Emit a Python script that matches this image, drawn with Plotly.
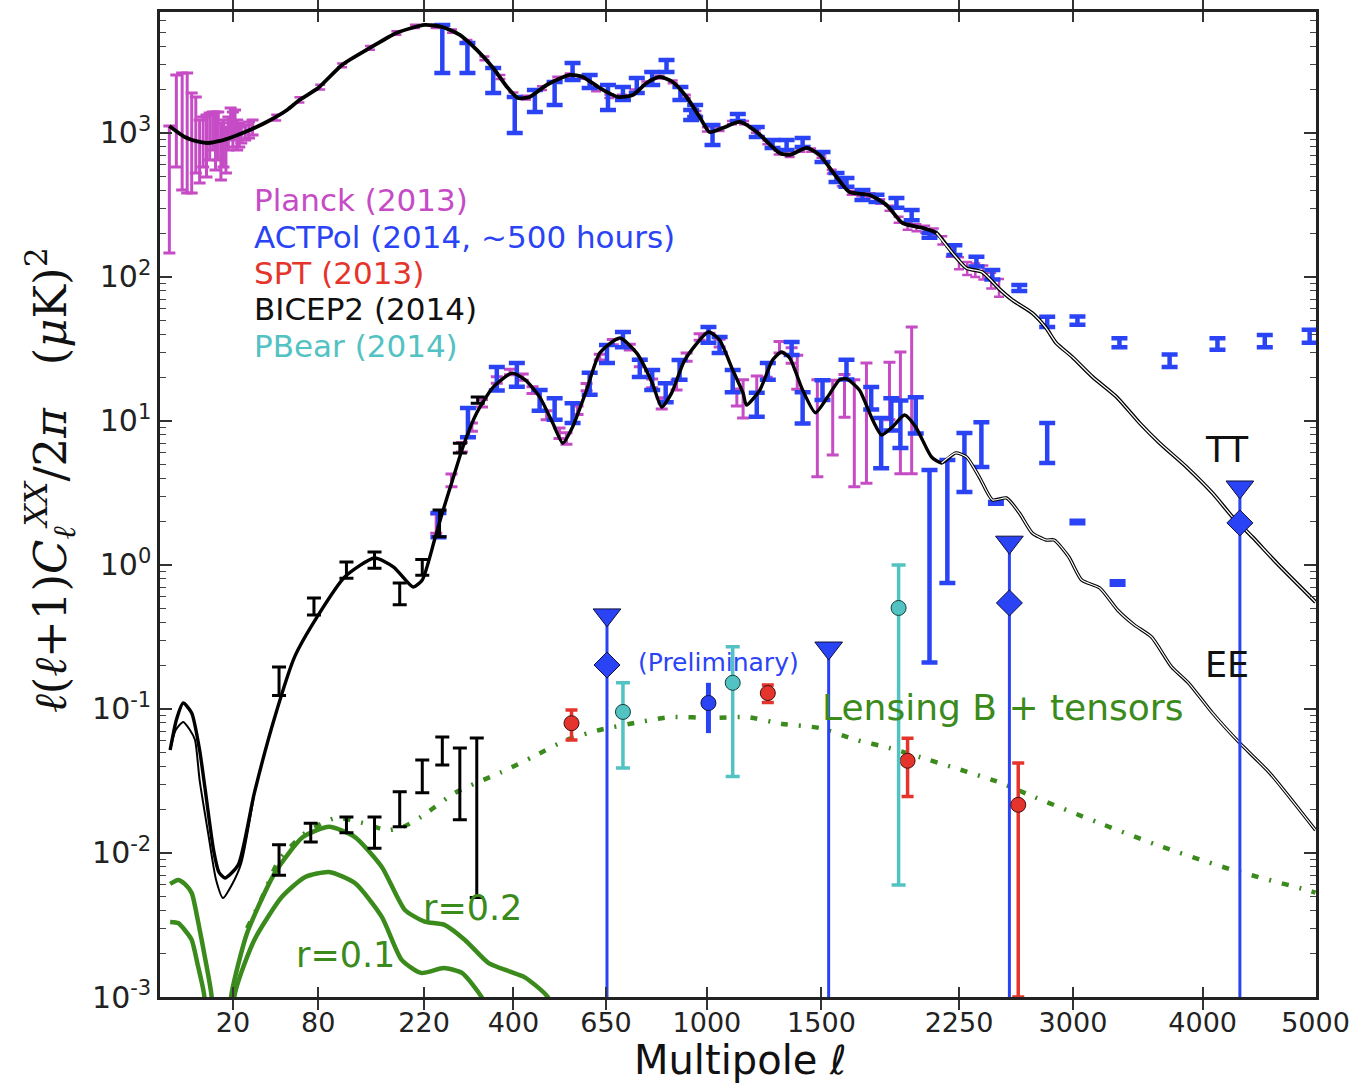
import numpy as np
import plotly.graph_objects as go

# ---------------- data (multipole ell, D_ell in muK^2) ----------------
# Theory TT
ell_tt = [2, 4.5, 8, 10.5, 14.6, 21, 31, 41, 53, 63, 80, 105, 139, 176, 221, 252, 285, 319, 354, 385,
          410, 439, 482, 544, 581, 631, 687, 735, 781, 826, 872, 923, 972, 1010, 1062, 1132, 1204,
          1304, 1350, 1429, 1490, 1574, 1639, 1743, 1834, 1922, 2035, 2116, 2210, 2296, 2394, 2502,
          2586, 2718, 2813, 2882, 2996, 3142, 3318, 3494, 3650, 3867, 4082, 4254, 4427, 4643, 5000]
d_tt = [1118, 938, 866, 852, 880, 953, 1083, 1231, 1444, 1695, 2053, 2967, 3894, 4948, 5623, 5446,
        4793, 3771, 2827, 2086, 1750, 1778, 2154, 2528, 2448, 2053, 1778, 1836, 2224, 2448, 2260, 1778,
        1292, 1016, 1083, 1192, 1016, 726, 704, 787, 704, 495, 389, 371, 316, 237, 219, 202, 147, 115,
        108, 82.5, 69.2, 56.2, 44.2, 34.8, 27.8, 20.2, 14.7, 9.68, 7.03, 4.79, 3.16, 2.15, 1.56, 1.03, 0.553]

# Theory EE
ell_ee = [2.1, 3.0, 4.2, 6.0, 8.0, 9.5, 12.3, 14.2, 16.6, 22.5, 31, 44, 59, 79, 108, 145, 172, 202, 217,
          238, 252, 271, 291, 319, 354, 397, 428, 464, 498, 525, 552, 592, 631, 693, 748, 800, 833, 868,
          916, 1006, 1050, 1103, 1146, 1160, 1217, 1273, 1312, 1350, 1410, 1471, 1530, 1589, 1624, 1690,
          1759, 1807, 1866, 1933, 1996, 2087, 2146, 2230, 2296, 2375, 2458, 2548, 2632, 2718, 2813, 2868,
          2970, 3062, 3194, 3326, 3454, 3587, 3746, 3882, 4082, 4314, 4580, 5000]
d_ee = [0.0519, 0.0839, 0.110, 0.0938, 0.0519, 0.0287, 0.0105, 0.00738, 0.0067, 0.00826, 0.0261, 0.088,
        0.23, 0.436, 0.825, 1.118, 0.968, 0.703, 0.787, 1.49, 2.3, 3.89, 6.6, 11.4, 17.2, 21.5, 19.3, 14.7,
        9.68, 7.03, 9.09, 16.4, 29.6, 37.7, 29.6, 18.4, 12.5, 15.6, 26.5, 41.5, 36.5, 22.6, 15.6, 12.9,
        16.4, 26.5, 30.1, 27.4, 16.4, 11.4, 14.7, 19.3, 19.6, 16.4, 10.2, 8.0, 9.09, 11.0, 9.09, 5.62,
        5.11, 6.0, 5.62, 4.08, 2.83, 2.92, 2.30, 1.67, 1.49, 1.49, 1.14, 0.787, 0.692, 0.487, 0.383,
        0.316, 0.196, 0.152, 0.0938, 0.0581, 0.0359, 0.0144]
# second EE model at low ell (lower reionization bump)
ell_ee2 = [2.1, 2.9, 4.2, 5.6, 6.8, 8.0, 10.5, 13.2, 15.8, 19.5, 24, 31]
d_ee2 = [0.0519, 0.0715, 0.0813, 0.0715, 0.0609, 0.0321, 0.0138, 0.0065, 0.00487, 0.0060, 0.00853, 0.0261]

# Tensor BB, r = 0.2 and r = 0.1
ell_r2 = [2.1, 3.3, 4.5, 6.0, 7.5, 9.5, 11.5, 15, 19.5, 27, 44, 66, 91, 120, 155, 189, 221, 255, 295,
          344, 392, 427, 485, 530]
d_r2 = [0.0061, 0.0065, 0.0061, 0.00527, 0.00343, 0.0019, 0.00107, 0.0002, 0.00107, 0.00278, 0.00726,
        0.0129, 0.0152, 0.0129, 0.0080, 0.00402, 0.00334, 0.00318, 0.00249, 0.00172, 0.00150, 0.00137,
        0.00100, 0.0005]
ell_r1 = [2.1, 3.3, 4.5, 6.0, 7.5, 9.2, 15, 21, 31, 49, 68, 91, 120, 155, 184, 215, 255, 289, 323, 347, 383]
d_r1 = [0.00332, 0.00326, 0.00292, 0.00249, 0.00167, 0.00107, 0.0001, 0.00107, 0.00249, 0.00494, 0.00681,
        0.00738, 0.00619, 0.0036, 0.00181, 0.00147, 0.00159, 0.00147, 0.00107, 0.0008, 0.0005]

# Lensing B + tensors (r=0.2)
ell_lens = [27, 35, 47, 68, 98, 129, 163, 189, 215, 275, 383, 446, 535, 631, 758, 868, 1022, 1160, 1317,
            1490, 1675, 1850, 2018, 2515, 2698, 3172, 3675, 4254, 4920, 5000]
d_lens = [0.0030, 0.00472, 0.00893, 0.01377, 0.0175, 0.0162, 0.0144, 0.0154, 0.0178, 0.0261, 0.0377,
          0.0464, 0.0609, 0.0715, 0.0813, 0.0880, 0.0866, 0.0880, 0.0787, 0.0738, 0.0609, 0.0536, 0.0464,
          0.0306, 0.0253, 0.0164, 0.0110, 0.00762, 0.00553, 0.0053]

# Planck 2013 TT, low ell (unbinned)
ell_pl_low = [2, 3, 4, 5, 6, 7, 8, 9, 10, 11, 12, 13, 14, 15, 16, 17, 18, 19, 20, 21, 22, 23, 24, 26, 28, 30]
d_pl_low = [633, 1556, 1506, 1497, 1140, 1153, 840, 936, 915, 1013, 1081, 976, 1024, 822, 906, 814, 1027,
            1193, 1100, 1191, 997, 987, 977, 1015, 1058, 1100]
e_pl_low = [486, 975, 1104, 1114, 757, 626, 391, 355, 420, 364, 318, 423, 375, 351, 325, 287, 264, 299,
            300, 253, 234, 187, 125, 122, 135, 132]

# Planck 2013 TT, binned
ell_pl_tt = [45, 63, 82, 105, 139, 176, 205, 240, 270, 300, 335, 370, 400, 430, 470, 510, 544, 580, 620,
             660, 700, 740, 780, 826, 872, 920, 960, 1000, 1050, 1100, 1150, 1200, 1250, 1300, 1350, 1400,
             1450, 1500, 1550, 1600, 1650, 1700, 1750, 1800, 1850, 1900, 1950, 2000, 2050, 2100, 2150, 2200,
             2250, 2300, 2350, 2400, 2450, 2500]
d_pl_tt = [1280, 1700, 2080, 2950, 3900, 4950, 5500, 5500, 5100, 4300, 3300, 2450, 1850, 1760, 2050, 2400,
           2520, 2440, 2000, 1800, 1790, 1950, 2220, 2440, 2260, 1800, 1380, 1060, 1060, 1180, 1180, 1030,
           860, 730, 700, 760, 760, 690, 540, 440, 385, 375, 370, 335, 300, 250, 225, 220, 215, 205, 180,
           150, 125, 115, 112, 108, 95, 85]
e_pl_tt = [60, 70, 80, 90, 120, 140, 150, 150, 140, 120, 100, 80, 60, 55, 60, 60, 65, 60, 55, 50, 50, 50,
           55, 55, 50, 45, 40, 35, 30, 30, 30, 28, 25, 22, 20, 20, 20, 18, 16, 14, 12, 12, 12, 12, 12, 12,
           12, 12, 12, 12, 12, 12, 12, 12, 12, 12, 12, 12]

# Planck 2013 EE
ell_pl_ee = [241, 269, 289, 309, 330, 362, 392, 422, 446, 482, 516, 535, 566, 592, 631, 671, 725, 758, 800,
             833, 886, 923, 972, 1010, 1050, 1120, 1146, 1204, 1247, 1304, 1359, 1385, 1480, 1555, 1614,
             1664, 1727, 1850, 1910, 1973]
d_pl_ee = [1.96, 3.89, 6.6, 9.1, 13.3, 19.3, 21.9, 20.2, 16.4, 11, 8.25, 7.6, 11.9, 17.2, 27.8, 35.3, 32.6,
           25.3, 18.3, 13.3, 17.8, 27.8, 38.3, 42.9, 34.8, 14.7, 14.9, 18, 22.6, 32.6, 28.7, 22.6, 11.7,
           12.5, 15.8, 11.4, 14.5, 17.9, 17.2, 24.6]
e_pl_ee = [0.3, 0.4, 0.5, 0.6, 0.8, 1.0, 1.0, 1.0, 0.9, 0.8, 0.7, 0.7, 0.8, 1.0, 1.3, 1.5, 1.5, 1.5, 1.3,
           1.2, 1.4, 1.8, 2, 2.2, 2.2, 2, 4.4, 2.5, 2.5, 3, 3.5, 6, 7.6, 6.7, 5.2, 7.9, 10.8, 7.7, 12.9, 20.3]

# ACTPol TT
ell_act_tt = [252, 300, 354, 403, 452, 503, 552, 601, 656, 703, 748, 800, 850, 900, 940, 955, 1022, 1124,
              1204, 1273, 1336, 1410, 1505, 1574, 1624, 1706, 1780, 1888, 1973, 2075, 2222, 2357, 2457,
              2632, 2820, 3032, 3340, 3730, 4124, 4535, 4945]
d_act_tt = [4117, 3414, 2362, 1389, 1695, 1913, 2699, 2290, 1799, 1890, 2153, 2402, 2930, 1890, 1338, 1428,
            981, 1283, 1020, 840, 828, 861, 683, 492, 455, 372, 352, 328, 270, 195, 154, 128, 104, 84, 49,
            49.8, 35, 26.3, 34.4, 36, 39]
e_act_tt = [1507, 804, 466, 389, 296, 349, 364, 237, 355, 195, 257, 248, 280, 195, 107, 136, 156, 72, 82,
            54, 66, 62, 55, 35, 32, 30, 20, 26, 22, 8, 12, 10, 8, 4, 4, 3.3, 2.5, 2.6, 3.2, 3.5, 4]

# ACTPol EE
ell_act_ee = [245, 301, 362, 408, 464, 503, 552, 601, 653, 703, 758, 800, 847, 897, 1006, 1050, 1103, 1204,
              1252, 1359, 1410, 1505, 1624, 1752, 1805, 1860, 1910, 1996, 2075, 2180, 2283, 2388, 2480,
              2820, 3032, 3326]
d_act_ee = [1.93, 10.0, 20, 21.3, 14.1, 12.3, 11.5, 18.4, 29.5, 37, 23.4, 19.5, 15.9, 22.9, 39.9, 34, 19.2,
            13.2, 22.3, 32, 12.7, 16.6, 23, 14.6, 7.6, 11.5, 10.2, 11.4, 2.39, 3.05, 5.73, 7.3, 2.7, 7.4,
            1.99, 0.75]
e_act_ee = [0.37, 2.3, 3.7, 4.0, 2.3, 2.1, 1.8, 3.2, 4.2, 4.5, 3.2, 3.1, 2.4, 3.6, 5.0, 4.3, 3.4, 2.5, 3.0,
            3.3, 3.1, 2.6, 3.6, 2.6, 2.9, 2.9, 3.7, 3.2, 2.18, 2.3, 2.52, 2.5, 0.04, 2.3, 0.04, 0.02]

# ACTPol BB (upper limits + central values) and preliminary point
ell_act_bb = [653, 1535, 2567, 4316]
up_act_bb = [0.45, 0.265, 1.44, 3.48]
c_act_bb = [0.202, None, 0.545, 1.96]
ell_act_pre = [1006]
d_act_pre = [0.11]
e_act_pre = [0.042]

# SPT BB
ell_spt = [549, 1252, 1950, 2625]
d_spt = [0.0797, 0.129, 0.0437, 0.0216]
e_spt = [0.0187, 0.018, 0.019, 0.0206]

# POLARBEAR BB
ell_pb = [703, 1103, 1900]
d_pb = [0.0954, 0.152, 0.503]
e_pb = [0.0565, 0.118, 0.497]

# BICEP2 BB and EE
ell_b2 = [47, 73, 110, 145, 181, 217, 252, 285, 319]
d_b2_bb = [0.0092, 0.0140, 0.0158, 0.0143, 0.0209, 0.0352, 0.0524, 0.0353, 0.0339]
e_b2_bb = [0.0022, 0.0021, 0.002, 0.0035, 0.0057, 0.009, 0.0116, 0.0183, 0.029]
ell_b2_ee = [47, 76, 110, 145, 181, 217, 247, 285, 321]
d_b2_ee = [0.16, 0.52, 0.93, 1.09, 0.64, 0.97, 1.99, 6.5, 14]
e_b2_ee = [0.036, 0.07, 0.12, 0.14, 0.11, 0.12, 0.42, 0.5, 0.7]

x_ticks = [20, 80, 220, 400, 650, 1000, 1500, 2250, 3000, 4000, 5000]
y_ticks = [1e-3, 1e-2, 1e-1, 1e0, 1e1, 1e2, 1e3]
y_ticktext = ['10<sup>-3</sup>', '10<sup>-2</sup>', '10<sup>-1</sup>', '10<sup>0</sup>',
              '10<sup>1</sup>', '10<sup>2</sup>', '10<sup>3</sup>']

# ---------------- styling ----------------
MAG = '#c64cc6'
BLUE = '#2a44f5'
RED = '#e5342b'
CYAN = '#52c2c2'
GREEN = '#3a8a1c'
FONT = 'DejaVu Sans'
POW = 0.45  # axis scale: x = ell**0.45


def X(ell):
    return np.asarray(ell, dtype=float) ** POW


fig = go.Figure()


def errbars(ell, val, err, color, thick, capw):
    fig.add_trace(go.Scatter(
        x=X(ell), y=val, mode='markers',
        marker=dict(size=2, color=color, opacity=0),
        error_y=dict(type='data', array=err, visible=True, color=color,
                     thickness=thick, width=capw),
        hoverinfo='skip', showlegend=False))


def curve(ell, val, color, width, dash='solid', smooth=0.6):
    fig.add_trace(go.Scatter(
        x=X(ell), y=val, mode='lines',
        line=dict(color=color, width=width, dash=dash, shape='spline', smoothing=smooth),
        hoverinfo='skip', showlegend=False))


# Planck
errbars(ell_pl_low, d_pl_low, e_pl_low, MAG, 3, 6)
errbars(ell_pl_tt, d_pl_tt, e_pl_tt, MAG, 2.5, 5)
errbars(ell_pl_ee, d_pl_ee, e_pl_ee, MAG, 3, 6)
# ACTPol TT/EE
errbars(ell_act_tt, d_act_tt, e_act_tt, BLUE, 4.5, 8)
errbars(ell_act_ee, d_act_ee, e_act_ee, BLUE, 4.5, 8)

# theory curves
curve(ell_ee2, d_ee2, 'black', 2)
curve(ell_tt, d_tt, 'black', 3.8)
curve(ell_ee, d_ee, 'black', 3.4)
# double-line look at high ell
ett = np.array(ell_tt); dtt = np.array(d_tt)
m = ett >= 2100
curve(ett[m], dtt[m], 'white', 1.3)
eee = np.array(ell_ee); dee = np.array(d_ee)
m = eee >= 2100
curve(eee[m], dee[m], 'white', 1.2)

# tensor and lensing BB
curve(ell_r2, d_r2, GREEN, 4.5)
curve(ell_r1, d_r1, GREEN, 4.5)
curve(ell_lens, d_lens, GREEN, 4.5, dash='7px,11px,2px,11px')

# BICEP2
errbars(ell_b2, d_b2_bb, e_b2_bb, 'black', 3, 7)
errbars(ell_b2_ee, d_b2_ee, e_b2_ee, 'black', 3, 7)

# ACTPol BB upper limits: vertical lines down to the bottom
fig.add_trace(go.Scatter(
    x=X(ell_act_bb), y=up_act_bb, mode='markers',
    marker=dict(symbol='triangle-down', size=24, color=BLUE, line=dict(color='#101040', width=1)),
    error_y=dict(type='data', symmetric=False, array=[0] * len(up_act_bb),
                 arrayminus=[u - 1e-6 for u in up_act_bb], visible=True, color=BLUE,
                 thickness=3, width=0),
    hoverinfo='skip', showlegend=False))
fig.add_trace(go.Scatter(
    x=X(ell_act_bb), y=c_act_bb, mode='markers',
    marker=dict(symbol='diamond', size=20, color=BLUE, line=dict(color='#101040', width=1)),
    hoverinfo='skip', showlegend=False))
fig.add_trace(go.Scatter(
    x=X(ell_act_pre), y=d_act_pre, mode='markers',
    marker=dict(symbol='circle', size=15, color=BLUE, line=dict(color='#101040', width=1)),
    error_y=dict(type='data', array=e_act_pre, visible=True, color=BLUE, thickness=5, width=0),
    hoverinfo='skip', showlegend=False))

# SPT
fig.add_trace(go.Scatter(
    x=X(ell_spt), y=d_spt, mode='markers',
    marker=dict(symbol='circle', size=15, color=RED, line=dict(color='#401010', width=1)),
    error_y=dict(type='data', array=e_spt, visible=True, color=RED, thickness=3.5, width=6),
    hoverinfo='skip', showlegend=False))
# POLARBEAR
fig.add_trace(go.Scatter(
    x=X(ell_pb), y=d_pb, mode='markers',
    marker=dict(symbol='circle', size=15, color=CYAN, line=dict(color='#104040', width=1)),
    error_y=dict(type='data', array=e_pb, visible=True, color=CYAN, thickness=3.5, width=7),
    hoverinfo='skip', showlegend=False))

# invisible trace to carry the right-hand mirror axis
fig.add_trace(go.Scatter(x=[X(5000)], y=[1.0], yaxis='y2', mode='markers',
                         marker=dict(opacity=0, size=1), hoverinfo='skip', showlegend=False))

# ---------------- text ----------------
L, R, T, B = 160, 34, 12, 87
W, H = 1350, 1084
pw, ph = W - L - R, H - T - B


def px(xp):
    return (xp - L) / pw


def py(yp):
    return (H - B - yp) / ph


def txt(s, x, y, color, size, xanchor='left', angle=0, family=FONT):
    fig.add_annotation(text=s, x=px(x), y=py(y), xref='paper', yref='paper', showarrow=False,
                       xanchor=xanchor, yanchor='middle', textangle=angle,
                       font=dict(color=color, size=size, family=family))


txt('Planck (2013)', 252, 200, MAG, 31)
txt('ACTPol (2014, ~500 hours)', 252, 237, BLUE, 31)
txt('SPT (2013)', 252, 273, RED, 31)
txt('BICEP2 (2014)', 252, 309, '#111111', 31)
txt('PBear (2014)', 252, 346, CYAN, 31)
txt('TT', 1203, 450, '#111111', 35)
txt('EE', 1203, 665, '#111111', 35)
txt('Lensing B + tensors', 820, 707, GREEN, 36)
txt('r=0.2', 421, 908, GREEN, 35)
txt('r=0.1', 294, 955, GREEN, 35)
txt('(Preliminary)', 636, 662, BLUE, 25)
txt('Multipole <i>ℓ</i>', 740, 1060, '#111111', 40, xanchor='center')
txt('<i>ℓ</i>(<i>ℓ</i>+1)<i>C</i><sub><i>ℓ</i></sub><sup><i>XX</i></sup>/2<i>π</i>   (<i>μ</i>K)<sup>2</sup>',
    50, 480, '#111111', 45, xanchor='center', angle=-90, family='DejaVu Serif')

# ---------------- axes ----------------
minor_y = [k * 10.0 ** n for n in range(-3, 4) for k in range(2, 10)]
yrange = [-3, 3.84]
common_y = dict(type='log', range=yrange, tickmode='array', tickvals=y_ticks,
                ticks='inside', ticklen=12, tickwidth=1.5, tickcolor='#333',
                showgrid=False, zeroline=False, automargin=False,
                minor=dict(tickmode='array', tickvals=minor_y, ticks='inside', ticklen=6,
                           tickcolor='#444', tickwidth=1, showgrid=False))
fig.update_layout(
    width=W, height=H, margin=dict(l=L, r=R, t=T, b=B, autoexpand=False),
    plot_bgcolor='white', paper_bgcolor='white', showlegend=False,
    xaxis=dict(range=[1, X(5000) * 1.0004], tickmode='array', tickvals=X(x_ticks),
               ticktext=[str(t) for t in x_ticks], ticks='inside', ticklen=10, tickwidth=1.5,
               tickcolor='#333', showline=True, linecolor='#222', linewidth=2.5, mirror='allticks',
               showgrid=False, zeroline=False, automargin=False,
               tickfont=dict(size=27, family=FONT, color='#222')),
    yaxis=dict(**common_y, ticktext=y_ticktext, showline=True, linecolor='#222', linewidth=2.5,
               mirror=True, tickfont=dict(size=30, family=FONT, color='#222')),
    yaxis2=dict(**common_y, overlaying='y', side='right', anchor='x', showticklabels=False,
                showline=False),
)

fig.write_html('out.html')
